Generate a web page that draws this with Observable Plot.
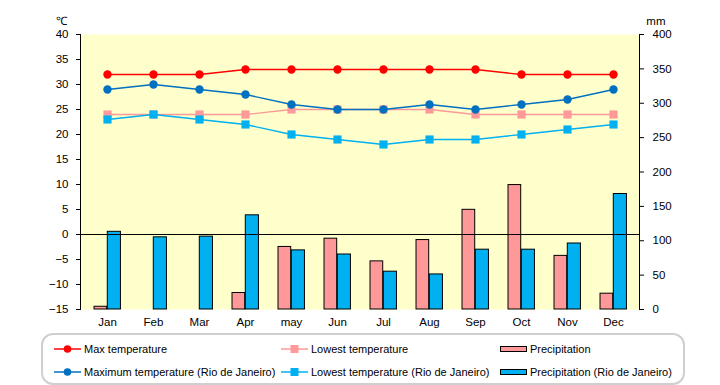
<!DOCTYPE html>
<html>
<head>
<meta charset="utf-8">
<script src="https://cdn.jsdelivr.net/npm/d3@7"></script>
<script src="https://cdn.jsdelivr.net/npm/@observablehq/plot@0.6"></script>
<style>
  html, body { margin: 0; padding: 0; background: white; }
  #wrap { position: relative; width: 720px; height: 385px; font-family: "Liberation Sans", Arial, sans-serif; }
  #legend {
    position: absolute; left: 41px; top: 333px; width: 629px; height: 46px;
    border: 2px solid #cfcfcf; border-radius: 12px; box-sizing: content-box;
    display: grid; grid-template-columns: 227px 219px auto; grid-auto-rows: 23px;
    padding-left: 11px; padding-top: 2px; font-size: 11px; color: black;
  }
  .item { display: flex; align-items: center; white-space: nowrap; }
  .item svg { flex: none; margin-right: 2px; }
</style>
</head>
<body>
<div id="wrap">
  <div id="chart"></div>
  <div id="legend"></div>
</div>
<script>
const months = ["Jan","Feb","Mar","Apr","may","Jun","Jul","Aug","Sep","Oct","Nov","Dec"];
const maxTemp = [32,32,32,33,33,33,33,33,33,32,32,32];
const lowTemp = [24,24,24,24,25,25,25,25,24,24,24,24];
const precip = [4,0,0,24,91,103,70,101,145,181,78,23];
const rioMax = [29,30,29,28,26,25,25,26,25,26,27,29];
const rioLow = [23,24,23,22,20,19,18,19,19,20,21,22];
const rioPrecip = [113,105,106,137,86,80,55,51,87,87,96,168];
const tempTicks = [-15,-10,-5,0,5,10,15,20,25,30,35,40];
const mmTicks = [0,50,100,150,200,250,300,350,400];
const seriesNames = ["Max temperature","Lowest temperature","Precipitation",
  "Maximum temperature (Rio de Janeiro)","Lowest temperature (Rio de Janeiro)","Precipitation (Rio de Janeiro)"];

const C = {max:"#FF0000", low:"#FF9999", pre:"#FF9999", rmax:"#0070C0", rlow:"#00B0F0", rpre:"#00B0F0"};

// map mm onto the °C axis ([-15,40] <-> [0,400])
const toC = mm => -15 + mm * 55 / 400;
const fromC = c => Math.round((c + 15) * 400 / 55);

const rows = months.map((m, i) => ({
  month: m, maxTemp: maxTemp[i], lowTemp: lowTemp[i], precip: precip[i],
  rioMax: rioMax[i], rioLow: rioLow[i], rioPrecip: rioPrecip[i]
}));

const W = 720, H = 333, ML = 80, MR = 81;
const bw = (W - ML - MR) / months.length;

const chart = Plot.plot({
  width: W, height: H,
  marginLeft: ML, marginRight: MR, marginTop: 34, marginBottom: 24,
  style: {fontFamily: "'Liberation Sans', Arial, sans-serif", fontSize: "11.5px", background: "white", color: "black", overflow: "visible"},
  x: {type: "band", domain: months, paddingInner: 0, paddingOuter: 0, axis: null},
  y: {domain: [-15, 40], axis: null},
  marks: [
    Plot.frame({fill: "#FFFFCC", stroke: null}),
    Plot.frame({anchor: "left", stroke: "black"}),
    Plot.frame({anchor: "right", stroke: "black"}),
    Plot.axisY({anchor: "left", ticks: tempTicks, tickSize: 4, tickPadding: 8, label: null}),
    Plot.axisY({anchor: "right", ticks: mmTicks.map(toC), tickFormat: fromC, tickSize: 4, tickPadding: 9, label: null}),
    Plot.axisX({anchor: "bottom", tickSize: 0, tickPadding: 8, label: null}),
    Plot.text(["℃"], {frameAnchor: "top-left", dx: -25, dy: -18}),
    Plot.text(["mm"], {frameAnchor: "top-right", dx: 26, dy: -18}),
    Plot.barY(rows, {x: "month", y1: -15, y2: d => toC(d.precip), fill: C.pre, stroke: "black", strokeWidth: 1,
      insetLeft: bw * 0.215, insetRight: bw * 0.5}),
    Plot.barY(rows, {x: "month", y1: -15, y2: d => toC(d.rioPrecip), fill: C.rpre, stroke: "black", strokeWidth: 1,
      insetLeft: bw * 0.5, insetRight: bw * 0.205}),
    Plot.ruleY([0], {stroke: "black", strokeWidth: 1}),
    Plot.line(rows, {x: "month", y: "maxTemp", stroke: C.max, strokeWidth: 1.3}),
    Plot.dot(rows, {x: "month", y: "maxTemp", fill: C.max, r: 4.2, symbol: "circle"}),
    Plot.line(rows, {x: "month", y: "lowTemp", stroke: C.low, strokeWidth: 1.3}),
    Plot.dot(rows, {x: "month", y: "lowTemp", fill: C.low, r: 4.6, symbol: "square"}),
    Plot.line(rows, {x: "month", y: "rioMax", stroke: C.rmax, strokeWidth: 1.3}),
    Plot.dot(rows, {x: "month", y: "rioMax", fill: C.rmax, r: 4.2, symbol: "circle"}),
    Plot.line(rows, {x: "month", y: "rioLow", stroke: C.rlow, strokeWidth: 1.3}),
    Plot.dot(rows, {x: "month", y: "rioLow", fill: C.rlow, r: 4.6, symbol: "square"})
  ]
});
document.getElementById("chart").appendChild(chart);

// legend
const kinds = ["circle","square","bar","circle","square","bar"];
const colors = [C.max, C.low, C.pre, C.rmax, C.rlow, C.rpre];
const legend = d3.select("#legend");
seriesNames.forEach((name, i) => {
  const item = legend.append("div").attr("class", "item");
  const svg = item.append("svg").attr("width", 28).attr("height", 14);
  if (kinds[i] === "bar") {
    svg.append("rect").attr("x", 0.5).attr("y", 4.5).attr("width", 26).attr("height", 5)
      .attr("fill", colors[i]).attr("stroke", "black");
  } else {
    svg.append("line").attr("x1", 0).attr("x2", 27).attr("y1", 7).attr("y2", 7)
      .attr("stroke", colors[i]).attr("stroke-width", 1.5);
    if (kinds[i] === "circle") {
      svg.append("circle").attr("cx", 13.5).attr("cy", 7).attr("r", 3.8).attr("fill", colors[i]);
    } else {
      svg.append("rect").attr("x", 9.5).attr("y", 3).attr("width", 8).attr("height", 8).attr("fill", colors[i]);
    }
  }
  item.append("span").text(name);
});
</script>
</body>
</html>
